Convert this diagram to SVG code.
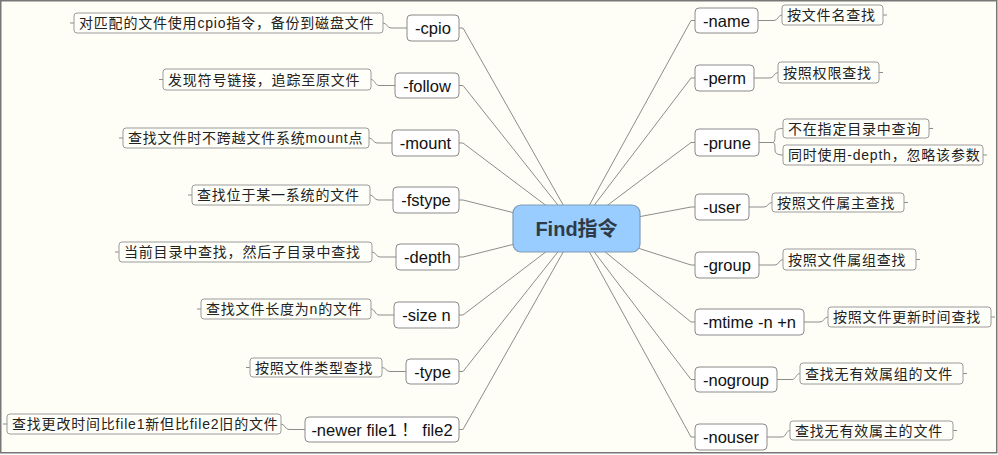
<svg xmlns="http://www.w3.org/2000/svg" width="998" height="455" viewBox="0 0 998 455">
<style>
.node rect{fill:#ffffff;stroke:#8a8a8a;stroke-width:1}
.node text{font-family:"Liberation Sans","Noto Sans CJK SC",Arial,sans-serif;font-size:16.5px;fill:#111;text-anchor:middle}
.lab rect{fill:#fffffa;stroke:#9a9a9a;stroke-width:1}
.lab text{font-family:"Liberation Sans","Noto Sans CJK SC",sans-serif;font-size:14px;fill:#222;letter-spacing:0.8px}
.conn path{fill:none;stroke:#8c8c8c;stroke-width:1}
</style>
<rect x="0.75" y="0.75" width="996" height="452" fill="#fffef6" stroke="#777" stroke-width="1.5"/>
<g id="connectors" class="conn">
<path d="M576.5 228.5 L463 28 H459"/>
<path d="M576.5 228.5 L463 85.5 H459"/>
<path d="M576.5 228.5 L463 143 H459"/>
<path d="M576.5 228.5 L463 200 H459"/>
<path d="M576.5 228.5 L463 257 H459"/>
<path d="M576.5 228.5 L463 315 H459"/>
<path d="M576.5 228.5 L463 371.5 H459"/>
<path d="M576.5 228.5 L463 429.5 H459"/>
<path d="M576.5 228.5 L691 20.5 H695"/>
<path d="M576.5 228.5 L691 78 H695"/>
<path d="M576.5 228.5 L691 142.5 H695"/>
<path d="M576.5 228.5 L691 207 H695"/>
<path d="M576.5 228.5 L691 265 H695"/>
<path d="M576.5 228.5 L691 322 H695"/>
<path d="M576.5 228.5 L691 379.5 H695"/>
<path d="M576.5 228.5 L691 437 H695"/>
<path d="M407 28 H391 C387 28 387 23 383 23 M74 23 H70"/>
<path d="M395 85.5 H379 C375 85.5 375 79.5 371 79.5 M163 79.5 H159"/>
<path d="M392 143 H377 C373 143 373 138 369 138 M123 138 H119"/>
<path d="M393 200 H378 C374 200 374 195 370 195 M192 195 H188"/>
<path d="M396 257 H380 C376 257 376 252 372 252 M119 252 H115"/>
<path d="M394 315 H379 C375 315 375 309 371 309 M201 309 H197"/>
<path d="M406 371.5 H390 C386 371.5 386 367.5 382 367.5 M250 367.5 H246"/>
<path d="M305 429.5 H289 C285 429.5 285 424 281 424 M7 424 H3"/>
<path d="M758 20.5 H774 C778 20.5 778 15 782 15 M883 15 H887"/>
<path d="M754 78 H770 C774 78 774 72.5 778 72.5 M879 72.5 H883"/>
<path d="M759 142.5 H773 C775 142.5 775 138 775 134 C775 130 777 128.5 783 128.5 M929 128.5 H933"/>
<path d="M773 142.5 C775 142.5 775 147 775 150 C775 153 777 155 783 155 M983 155 H987"/>
<path d="M749 207 H764 C768 207 768 202.5 772 202.5 M904 202.5 H908"/>
<path d="M759 265 H775 C779 265 779 259.5 783 259.5 M916 259.5 H920"/>
<path d="M804 322 H820 C824 322 824 317 828 317 M991 317 H995"/>
<path d="M777 379.5 H792 C796 379.5 796 373.5 800 373.5 M963 373.5 H967"/>
<path d="M767 437 H782 C786 437 786 430.5 790 430.5 M953 430.5 H957"/>
</g>
<g id="center">
<rect x="513" y="205" width="127" height="47" rx="8" fill="#99ccff" stroke="#7f9cb8" stroke-width="1.2"/>
<text x="576.5" y="235.5" font-family="'Liberation Sans','Noto Sans CJK SC',sans-serif" font-size="20" font-weight="bold" fill="#2e3a46" text-anchor="middle">Find指令</text>
</g>
<g id="n-cpio" class="node"><rect x="407" y="15" width="52" height="26" rx="4"/><text x="433" y="34">-cpio</text></g>
<g id="l-cpio" class="lab"><rect x="74" y="13" width="309" height="20" rx="3"/><text x="79" y="28">对匹配的文件使用cpio指令，备份到磁盘文件</text></g>
<g id="n-follow" class="node"><rect x="395" y="73" width="64" height="25" rx="4"/><text x="427" y="91.5">-follow</text></g>
<g id="l-follow" class="lab"><rect x="163" y="69" width="208" height="21" rx="3"/><text x="168" y="84.5">发现符号链接，追踪至原文件</text></g>
<g id="n-mount" class="node"><rect x="392" y="130" width="67" height="26" rx="4"/><text x="425.5" y="149">-mount</text></g>
<g id="l-mount" class="lab"><rect x="123" y="128" width="246" height="20" rx="3"/><text x="128" y="143">查找文件时不跨越文件系统mount点</text></g>
<g id="n-fstype" class="node"><rect x="393" y="187" width="66" height="26" rx="4"/><text x="426" y="206">-fstype</text></g>
<g id="l-fstype" class="lab"><rect x="192" y="185" width="178" height="20" rx="3"/><text x="197" y="200">查找位于某一系统的文件</text></g>
<g id="n-depth" class="node"><rect x="396" y="244" width="63" height="26" rx="4"/><text x="427.5" y="263">-depth</text></g>
<g id="l-depth" class="lab"><rect x="119" y="242" width="253" height="20" rx="3"/><text x="124" y="257">当前目录中查找，然后子目录中查找</text></g>
<g id="n-size" class="node"><rect x="394" y="302" width="65" height="26" rx="4"/><text x="426.5" y="321">-size n</text></g>
<g id="l-size" class="lab"><rect x="201" y="299" width="170" height="20" rx="3"/><text x="206" y="314">查找文件长度为n的文件</text></g>
<g id="n-type" class="node"><rect x="406" y="359" width="53" height="25" rx="4"/><text x="432.5" y="377.5">-type</text></g>
<g id="l-type" class="lab"><rect x="250" y="358" width="132" height="19" rx="3"/><text x="255" y="372.5">按照文件类型查找</text></g>
<g id="n-newer" class="node"><rect x="305" y="417" width="154" height="25" rx="4"/><text x="382" y="435.5">-newer file1 ！ file2</text></g>
<g id="l-newer" class="lab"><rect x="7" y="414" width="274" height="20" rx="3"/><text x="12" y="429">查找更改时间比file1新但比file2旧的文件</text></g>
<g id="n-name" class="node"><rect x="695" y="8" width="63" height="25" rx="4"/><text x="726.5" y="26.5">-name</text></g>
<g id="l-name" class="lab"><rect x="782" y="5" width="101" height="20" rx="3"/><text x="787" y="20">按文件名查找</text></g>
<g id="n-perm" class="node"><rect x="695" y="65" width="59" height="26" rx="4"/><text x="724.5" y="84">-perm</text></g>
<g id="l-perm" class="lab"><rect x="778" y="62" width="101" height="21" rx="3"/><text x="783" y="77.5">按照权限查找</text></g>
<g id="n-prune" class="node"><rect x="695" y="129" width="64" height="27" rx="4"/><text x="727" y="148.5">-prune</text></g>
<g id="l-prune1" class="lab"><rect x="783" y="119" width="146" height="19" rx="3"/><text x="788" y="133.5">不在指定目录中查询</text></g>
<g id="l-prune2" class="lab"><rect x="783" y="145" width="200" height="20" rx="3"/><text x="788" y="160">同时使用-depth，忽略该参数</text></g>
<g id="n-user" class="node"><rect x="695" y="194" width="54" height="26" rx="4"/><text x="722" y="213">-user</text></g>
<g id="l-user" class="lab"><rect x="772" y="193" width="132" height="19" rx="3"/><text x="777" y="207.5">按照文件属主查找</text></g>
<g id="n-group" class="node"><rect x="695" y="252" width="64" height="26" rx="4"/><text x="727" y="271">-group</text></g>
<g id="l-group" class="lab"><rect x="783" y="249" width="133" height="21" rx="3"/><text x="788" y="264.5">按照文件属组查找</text></g>
<g id="n-mtime" class="node"><rect x="695" y="309" width="109" height="26" rx="4"/><text x="749.5" y="328">-mtime -n +n</text></g>
<g id="l-mtime" class="lab"><rect x="828" y="307" width="163" height="20" rx="3"/><text x="833" y="322">按照文件更新时间查找</text></g>
<g id="n-nogroup" class="node"><rect x="695" y="367" width="82" height="25" rx="4"/><text x="736" y="385.5">-nogroup</text></g>
<g id="l-nogroup" class="lab"><rect x="800" y="363" width="163" height="21" rx="3"/><text x="805" y="378.5">查找无有效属组的文件</text></g>
<g id="n-nouser" class="node"><rect x="695" y="424" width="72" height="26" rx="4"/><text x="731" y="443">-nouser</text></g>
<g id="l-nouser" class="lab"><rect x="790" y="421" width="163" height="19" rx="3"/><text x="795" y="435.5">查找无有效属主的文件</text></g>
</svg>
